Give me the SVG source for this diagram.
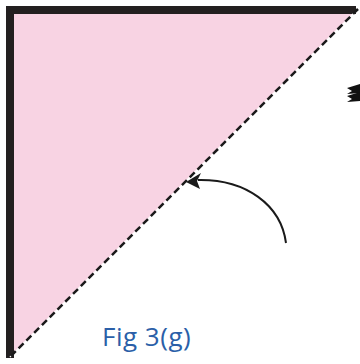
<svg xmlns="http://www.w3.org/2000/svg" width="360" height="364" viewBox="0 0 360 364">
<style>
.dash{stroke:#1a1a1a;stroke-width:2.5;stroke-dasharray:7 4;fill:none}
.base{stroke:#ffffff;stroke-width:1.5;fill:none}
.txt{font-family:"Open Sans",sans-serif;font-size:26px;fill:#2b5fa8;letter-spacing:0.5px}
</style>
<rect width="360" height="364" fill="#ffffff"/>
<g id="triangle">
<polygon points="10,10 357,10 10,357" fill="#f8d3e3"/>
<path d="M10,358 L10,10 L356,10" fill="none" stroke="#231f20" stroke-width="8"/>
<line class="base" x1="358" y1="9" x2="10" y2="357"/>
<line class="dash" x1="358" y1="9" x2="10" y2="357"/>
</g>
<g id="symbol">
<polygon points="360,84 347,88 352,91 347,94 360,93" fill="#111"/>
<polygon points="360,92 347,96 352,99 347,102 360,101" fill="#111"/>
</g>
<g id="connectors">
<path d="M286,243 C281,205 246,179 198,180" fill="none" stroke="#1a1a1a" stroke-width="2"/>
<polygon points="186,182 201,173 197,181 200,189" fill="#1a1a1a"/>
</g>
<g id="label">
<text class="txt" x="102" y="346">Fig 3(g)</text>
</g>
</svg>
